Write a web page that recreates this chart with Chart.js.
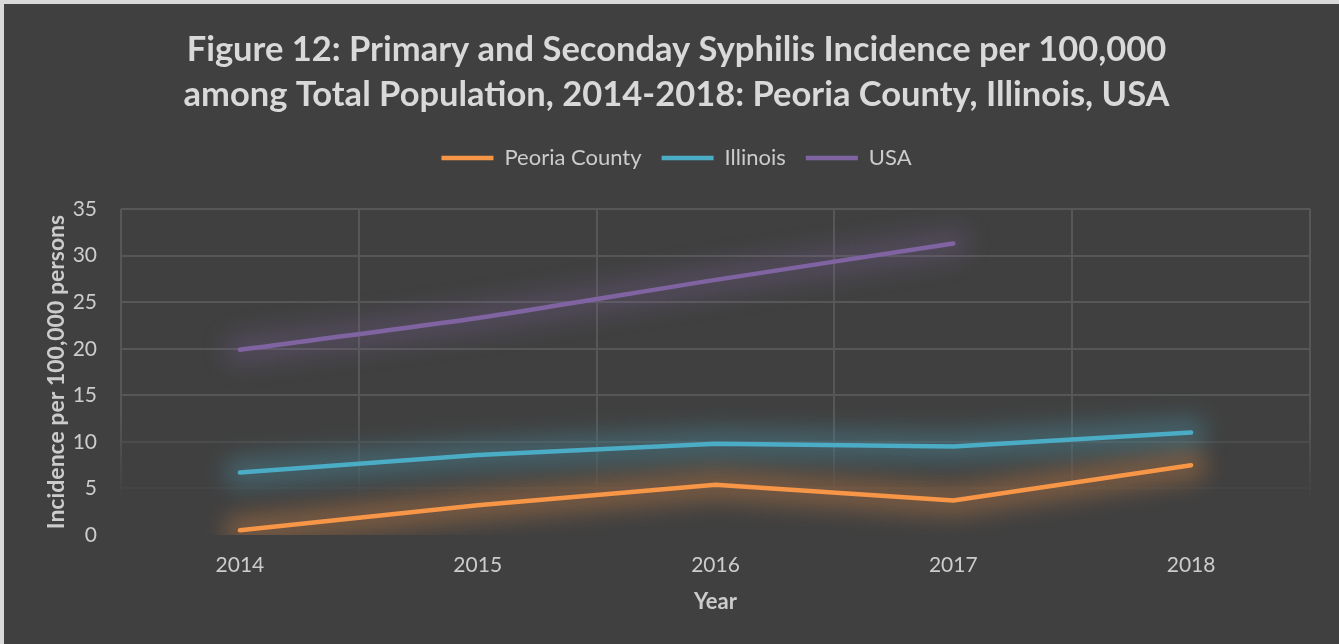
<!DOCTYPE html>
<html>
<head>
<meta charset="utf-8">
<title>Primary and Secondary Syphilis Incidence</title>
<script src="https://cdn.jsdelivr.net/npm/chart.js@4.4.1/dist/chart.umd.min.js"></script>
<style>
  html, body { margin: 0; padding: 0; background: #d9d9d9; }
  #wrap { width: 1339px; height: 644px; position: relative; }
  canvas { display: block; }
</style>
</head>
<body>
<div id="wrap"><canvas id="chart" width="1339" height="644"></canvas></div>
<script>
// Reporting years on the category axis
const years = ['2014', '2015', '2016', '2017', '2018'];

// Incidence per 100,000 persons
const peoriaCounty = [0.5, 3.2, 5.4, 3.7, 7.5];
const illinois = [6.7, 8.6, 9.8, 9.5, 11.0];
const usa = [19.9, 23.3, 27.4, 31.3, null];

// Series names shown in the legend
const seriesNames = ['Peoria County', 'Illinois', 'USA'];

// Value axis range
const yMin = 0;
const yMax = 35;
const yStep = 5;

const titleLines = [
  'Figure 12: Primary and Seconday Syphilis Incidence per 100,000',
  'among Total Population, 2014-2018: Peoria County, Illinois, USA'
];

const FONT = 'Lato, "Open Sans", sans-serif';
const BG = '#404040';
const GRID = '#575757';

// Dark panel with a thin light frame on the top and left edges
const panelBackground = {
  id: 'panelBackground',
  beforeDraw(chart) {
    const ctx = chart.ctx;
    ctx.save();
    ctx.fillStyle = '#d9d9d9';
    ctx.fillRect(0, 0, chart.width, chart.height);
    ctx.fillStyle = BG;
    ctx.fillRect(4, 4, chart.width - 4, chart.height - 4);
    ctx.restore();
  }
};

// Soft glow painted under every series line, kept inside the plot area
const lineGlow = {
  id: 'lineGlow',
  beforeDatasetsDraw(chart) {
    const ctx = chart.ctx;
    const a = chart.chartArea;
    ctx.save();
    ctx.beginPath();
    ctx.rect(a.left, a.top, a.right - a.left, a.bottom - a.top);
    ctx.clip();
    chart.data.datasets.forEach((ds, i) => {
      const line = chart.getDatasetMeta(i).dataset;
      if (!line || !line.points || !line.points.length) return;
      ctx.save();
      ctx.filter = 'blur(11px)';
      ctx.strokeStyle = ds.glowColor;
      ctx.lineWidth = 32;
      ctx.lineCap = 'round';
      ctx.lineJoin = 'round';
      ctx.beginPath();
      line.path(ctx);
      ctx.stroke();
      ctx.restore();
    });
    ctx.restore();
  }
};

// Vertical grid lines fade out toward the bottom of the plot
function verticalGridColor(c) {
  const chart = c.chart;
  const area = chart.chartArea;
  if (!area) return GRID;
  const g = chart.ctx.createLinearGradient(0, area.top, 0, area.bottom);
  g.addColorStop(0, GRID);
  g.addColorStop(0.64, GRID);
  g.addColorStop(0.9, 'rgba(87,87,87,0)');
  g.addColorStop(1, 'rgba(87,87,87,0)');
  return g;
}

// Horizontal grid lines likewise grow faint near zero
function horizontalGridColor(c) {
  const v = c.tick ? c.tick.value : 0;
  if (v >= 15) return GRID;
  if (v >= 10) return '#4c4c4c';
  if (v >= 5) return '#444444';
  return 'rgba(0,0,0,0)';
}

new Chart(document.getElementById('chart'), {
  type: 'line',
  data: {
    labels: years,
    datasets: [
      {
        label: seriesNames[0],
        data: peoriaCounty,
        borderColor: '#f79646',
        backgroundColor: '#f79646',
        glowColor: 'rgba(247,150,70,0.3)',
        tension: 0
      },
      {
        label: seriesNames[1],
        data: illinois,
        borderColor: '#4bacc6',
        backgroundColor: '#4bacc6',
        glowColor: 'rgba(75,172,198,0.3)',
        tension: 0
      },
      {
        label: seriesNames[2],
        data: usa,
        borderColor: '#8064a2',
        backgroundColor: '#8064a2',
        glowColor: 'rgba(128,100,162,0.26)',
        tension: 0.25
      }
    ]
  },
  options: {
    responsive: false,
    animation: false,
    devicePixelRatio: 1,
    datasets: {
      line: {
        borderWidth: 4.5,
        borderCapStyle: 'round',
        borderJoinStyle: 'round',
        pointRadius: 0,
        pointHoverRadius: 0,
        fill: false,
        spanGaps: false
      }
    },
    layout: {
      padding: { top: 4, left: 43, right: 29, bottom: 29 }
    },
    plugins: {
      title: {
        display: true,
        text: titleLines,
        color: '#d9d9d9',
        font: { family: FONT, size: 34.5, weight: 'bold', lineHeight: 1.32 },
        padding: { top: 23, bottom: 9 }
      },
      // spacer between the legend row and the plot
      subtitle: {
        display: true,
        text: '',
        weight: 500,
        font: { size: 1, lineHeight: 1 },
        padding: { top: 29, bottom: 0 }
      },
      legend: {
        display: true,
        position: 'top',
        labels: {
          color: '#cccccc',
          font: { family: FONT, size: 22 },
          usePointStyle: true,
          pointStyle: 'line',
          pointStyleWidth: 52,
          boxHeight: 22,
          padding: 20
        }
      },
      tooltip: { enabled: false }
    },
    scales: {
      x: {
        type: 'category',
        offset: true,
        border: { display: false },
        grid: {
          offset: true,
          color: verticalGridColor,
          lineWidth: 2,
          drawTicks: false
        },
        ticks: {
          color: '#cccccc',
          font: { family: FONT, size: 21 },
          padding: 18,
          maxRotation: 0
        },
        title: {
          display: true,
          text: 'Year',
          color: '#cccccc',
          font: { family: FONT, size: 22, weight: 'bold' },
          padding: { top: 0, bottom: 0 }
        },
        afterFit(scale) { scale.height = 80; }
      },
      y: {
        min: yMin,
        max: yMax,
        border: { display: false },
        grid: {
          color: horizontalGridColor,
          lineWidth: 2,
          drawTicks: false
        },
        ticks: {
          stepSize: yStep,
          color: '#cccccc',
          font: { family: FONT, size: 21 },
          padding: 24
        },
        title: {
          display: true,
          text: 'Incidence per 100,000 persons',
          color: '#cccccc',
          font: { family: FONT, size: 23, weight: 'bold' },
          padding: { top: 0, bottom: 0 }
        },
        afterFit(scale) { scale.width = 78; }
      }
    }
  },
  plugins: [panelBackground, lineGlow]
});
</script>
</body>
</html>
